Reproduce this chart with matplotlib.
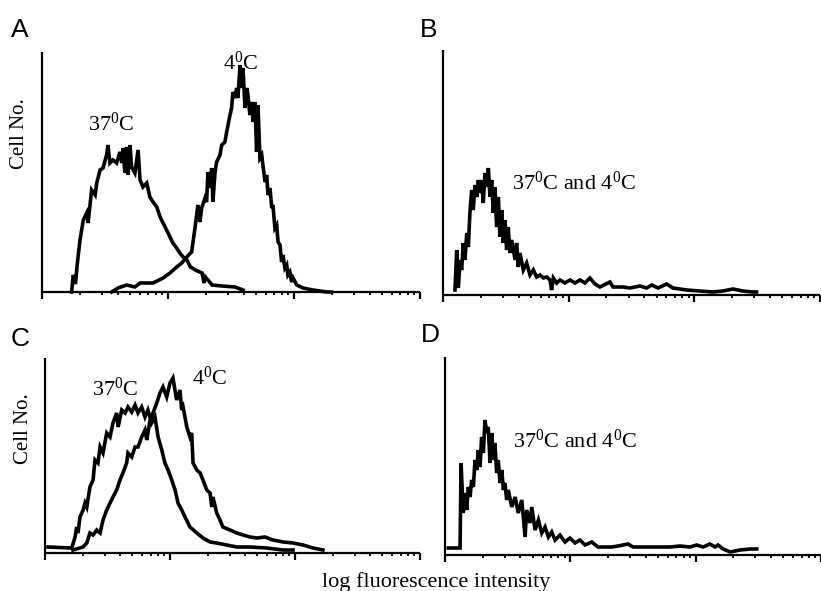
import matplotlib
matplotlib.use('Agg')
import matplotlib.pyplot as plt
import numpy as np

plt.rcParams['font.family'] = ['Liberation Serif', 'DejaVu Serif']
plt.rcParams['mathtext.fontset'] = 'custom'
plt.rcParams['mathtext.rm'] = 'Liberation Serif'
plt.rcParams['mathtext.it'] = 'Liberation Serif:italic'

# ---------------- data (channel on 3-decade log axis, 64 ch / decade; counts) ----------------
a37_ch = [15.0, 15.9, 17.0, 17.8, 19.3, 21.0, 22.7, 23.4, 25.2, 27.0, 27.8, 29.5, 31.0, 32.8, 33.5,
          34.5, 36.0, 37.9, 39.6, 40.5, 41.1, 42.1, 43.0, 43.7, 44.7, 45.5, 47.2, 48.8, 49.8, 51.3,
          53.2, 54.8, 56.4, 58.3, 60.0, 61.5, 63.3, 65.0, 66.5, 68.4, 70.0, 71.7, 73.6, 75.4, 77.9,
          81.3, 82.3, 83.0, 86.4, 91.4, 98.0, 102.1]
a37_ct = [0, 17, 8, 26, 52, 72, 79, 69, 102, 97, 109, 122, 124, 137, 147,
          129, 132, 129, 140, 129, 144, 119, 145, 117, 147, 125, 119, 142, 112, 105,
          109, 95, 90, 85, 75, 69, 62, 55, 49, 44, 39, 35, 32, 25, 22,
          19, 9, 15, 7, 6, 5, 2]

a4_ch = [35.4, 38.6, 43.0, 47.2, 49.8, 56.4, 61.5, 65.0, 68.4, 71.0, 73.5, 76.0, 77.7, 79.2, 80.2,
         81.1, 82.8, 83.6, 84.3, 85.3, 86.2, 86.8, 87.9, 88.7, 90.4, 91.3, 92.9, 93.8, 94.5, 95.5,
         96.3, 97.0, 98.0, 98.9, 99.5, 100.6, 101.4, 102.1, 103.1, 104.0, 104.6, 105.6, 106.5, 107.2,
         108.2, 109.0, 109.7, 110.7, 111.6, 112.2, 113.3, 114.1, 114.8, 115.8, 116.7, 117.3, 118.3,
         119.2, 119.9, 120.9, 121.7, 122.4, 123.4, 124.3, 124.9, 125.9, 126.8, 127.5, 129.4, 132.6,
         137.6, 144.6, 147.1]
a4_ct = [0, 4, 7, 5, 9, 9, 14, 19, 25, 29, 35, 40, 64, 87, 70,
         84, 94, 90, 120, 104, 124, 90, 120, 130, 137, 147, 150, 160, 167, 177,
         184, 200, 194, 204, 194, 227, 204, 224, 184, 204, 197, 177, 190, 170,
         190, 140, 187, 134, 137, 127, 110, 117, 97, 104, 84, 87, 64,
         67, 50, 47, 30, 37, 24, 27, 17, 20, 10, 14, 7, 4,
         2, 0, 0]

b_ch = [6.1, 7.0, 7.8, 8.7, 9.5, 10.3, 11.2, 12.1, 12.9, 13.7, 14.6, 15.4, 16.3, 17.2, 18.0, 18.8,
        19.7, 20.5, 21.4, 22.3, 23.1, 23.9, 24.8, 25.6, 26.5, 27.3, 28.2, 29.0, 29.9, 30.7, 31.6,
        32.4, 33.2, 34.1, 35.0, 36.7, 37.5, 38.3, 39.2, 40.9, 42.6, 44.3, 46.0, 47.7, 49.4, 51.1,
        52.8, 54.5, 55.3, 56.2, 57.9, 59.6, 62.1, 64.7, 67.2, 69.8, 72.3, 74.8, 77.4, 79.9, 85.0,
        86.6, 91.6, 95.2, 100.3, 103.7, 106.3, 109.5, 113.9, 117.1, 124.1, 130.8, 137.5, 142.6,
        147.7, 152.7, 157.8, 159.7]
b_ct = [5, 45, 7, 35, 25, 52, 35, 62, 48, 82, 105, 85, 110, 98, 115, 102,
        115, 92, 122, 108, 127, 98, 115, 82, 108, 68, 98, 58, 85, 52, 75,
        45, 68, 42, 55, 35, 52, 28, 42, 25, 32, 20, 25, 18, 20, 17,
        18, 15, 5, 17, 12, 15, 12, 15, 12, 15, 12, 17, 11, 8, 13,
        8, 8, 7, 9, 7, 10, 7, 11, 7, 5, 4, 3, 4,
        6, 4, 3, 3]

c37_ch = [1.5, 13.7, 15.4, 16.2, 16.9, 17.9, 19.5, 20.5, 21.4, 23.0, 24.6, 25.6, 27.1, 28.2, 29.7,
          31.6, 33.3, 34.8, 36.7, 37.4, 39.3, 41.0, 42.5, 44.4, 46.1, 47.6, 49.5, 51.2, 52.7, 54.6,
          56.3, 57.9, 59.8, 61.4, 63.0, 64.9, 66.6, 68.1, 70.0, 71.7, 73.2, 74.2, 77.7, 80.9, 84.5,
          87.9, 93.0, 98.2, 105.0, 113.5, 121.9, 127.0]
c37_ct = [6, 5, 16, 26, 20, 36, 43, 50, 46, 66, 73, 93, 90, 106, 100,
          120, 116, 130, 140, 126, 143, 140, 146, 141, 148, 140, 146, 136, 143, 130,
          136, 116, 103, 90, 83, 73, 63, 50, 43, 36, 30, 26, 20, 15, 11,
          10, 8, 6, 6, 5, 3, 3]

c4_ch = [14.3, 19.5, 21.4, 23.0, 24.6, 26.5, 28.2, 29.7, 31.6, 33.3, 34.8, 36.7, 38.4, 39.9, 41.8,
         42.5, 44.4, 46.1, 47.6, 49.5, 51.2, 52.1, 53.8, 55.3, 57.2, 58.9, 60.4, 62.3, 64.0, 65.5,
         67.4, 69.1, 70.0, 70.7, 72.6, 74.2, 75.1, 75.8, 77.7, 79.4, 80.9, 82.8, 84.5, 85.4, 86.0,
         87.9, 89.6, 91.1, 94.7, 98.2, 101.4, 105.0, 108.4, 112.6, 116.7, 121.9, 127.0, 132.1,
         137.2, 142.3]
c4_ct = [3, 6, 10, 20, 18, 23, 20, 33, 43, 50, 56, 63, 73, 80, 90,
         100, 96, 106, 106, 116, 123, 113, 133, 140, 150, 160, 166, 156, 170, 175,
         153, 163, 143, 146, 126, 116, 120, 90, 83, 80, 73, 63, 60, 46, 56,
         40, 33, 26, 23, 20, 18, 16, 15, 16, 13, 11, 10, 8,
         5, 3]

d_ch = [1.7, 7.7, 8.2, 9.3, 10.2, 11.1, 11.9, 12.8, 13.6, 14.5, 15.3, 16.2, 17.0, 17.9, 18.7, 19.6,
        20.4, 21.3, 22.1, 23.0, 23.9, 24.7, 25.5, 26.4, 27.2, 28.1, 29.0, 29.8, 30.6, 31.5, 32.3,
        34.1, 35.8, 37.4, 39.2, 40.9, 41.7, 43.4, 44.3, 46.0, 47.7, 49.4, 51.1, 52.8, 54.5, 56.2,
        58.7, 61.3, 63.8, 66.4, 68.9, 71.5, 74.9, 78.1, 81.7, 85.1, 88.4, 93.5, 96.0, 103.0, 109.8,
        114.9, 120.0, 125.1, 128.5, 131.8, 135.3, 137.9, 139.4, 142.0, 145.6, 150.7, 155.8, 159.2]
d_ct = [7, 7, 92, 42, 62, 45, 68, 58, 75, 68, 95, 85, 105, 88, 118, 102,
        135, 122, 128, 92, 122, 95, 112, 82, 95, 72, 85, 65, 72, 55, 65,
        48, 58, 42, 55, 18, 45, 32, 48, 25, 35, 22, 28, 18, 23, 15,
        20, 13, 17, 12, 15, 10, 13, 8, 8, 8, 9, 11, 8, 8, 8,
        8, 9, 8, 10, 8, 11, 8, 10, 6, 3, 5, 6, 6]

panel_letters = ['A', 'B', 'C', 'D']
lab37 = r'37$^{0}$C'
lab4 = r'4$^{0}$C'
lab_both = r'37$^{0}$C and 4$^{0}$C'

# ---------------- figure ----------------
W, H = 821, 591
fig = plt.figure(figsize=(W / 100, H / 100), dpi=100)


def px_axes(left, right, bottom, top):
    return fig.add_axes([left / W, 1 - bottom / H, (right - left) / W, (bottom - top) / H])


def style(ax, ymax):
    ax.set_xlim(0, 192)
    ax.set_ylim(0, ymax)
    for s in ['top', 'right']:
        ax.spines[s].set_visible(False)
    for s in ['left', 'bottom']:
        ax.spines[s].set_linewidth(1.6)
        ax.spines[s].set_capstyle('butt')
    major = [0, 64, 128, 192]
    minor = [64 * d + 64 * np.log10(k) for d in range(3) for k in range(2, 10)]
    ax.set_xticks(major)
    ax.set_xticks(minor, minor=True)
    ax.tick_params(axis='x', which='major', direction='out', length=5, width=1.6,
                   labelbottom=False)
    ax.tick_params(axis='x', which='minor', direction='out', length=2.5, width=1.3)
    ax.set_yticks([])
    ax.patch.set_visible(False)


lw = 2.6
kw = dict(color='black', lw=lw, clip_on=False, solid_joinstyle='miter')
tfs = 16

axA = px_axes(42, 420, 292, 52)
style(axA, 240)
axA.plot(a37_ch, a37_ct, **kw)
axA.plot(a4_ch, a4_ct, **kw)
axA.text(23.4, 161, lab37, fontsize=tfs, ha='left', va='baseline')
axA.text(92.0, 222, lab4, fontsize=tfs, ha='left', va='baseline')

axB = px_axes(443, 820, 295, 50)
style(axB, 245)
axB.plot(b_ch, b_ct, **kw)
axB.text(35.1, 105, lab_both, fontsize=tfs, ha='left', va='baseline')

axC = px_axes(45, 420, 553, 358)
style(axC, 195)
axC.plot(c37_ch, c37_ct, **kw)
axC.plot(c4_ch, c4_ct, **kw)
axC.text(24.1, 157, lab37, fontsize=tfs, ha='left', va='baseline')
axC.text(75.3, 168, lab4, fontsize=tfs, ha='left', va='baseline')

axD = px_axes(445, 821, 555, 357)
style(axD, 198)
axD.plot(d_ch, d_ct, **kw)
axD.text(34.7, 107, lab_both, fontsize=tfs, ha='left', va='baseline')

# panel letters
letter_pos = [(11, 37), (420, 37), (11, 346), (421, 342)]
for (lx, ly), t in zip(letter_pos, panel_letters):
    fig.text(lx / W, 1 - ly / H, t, fontsize=19, family='Liberation Sans',
             ha='left', va='baseline')

fig.text(20 / W, 1 - 134 / H, 'Cell No.', rotation=90, ha='center', va='center', fontsize=15)
fig.text(23 / W, 1 - 429 / H, 'Cell No.', rotation=90, ha='center', va='center', fontsize=15)
fig.text(436 / W, 1 - 587 / H, 'log fluorescence intensity', ha='center', va='baseline',
         fontsize=16)

fig.savefig('out.png', dpi=100)
